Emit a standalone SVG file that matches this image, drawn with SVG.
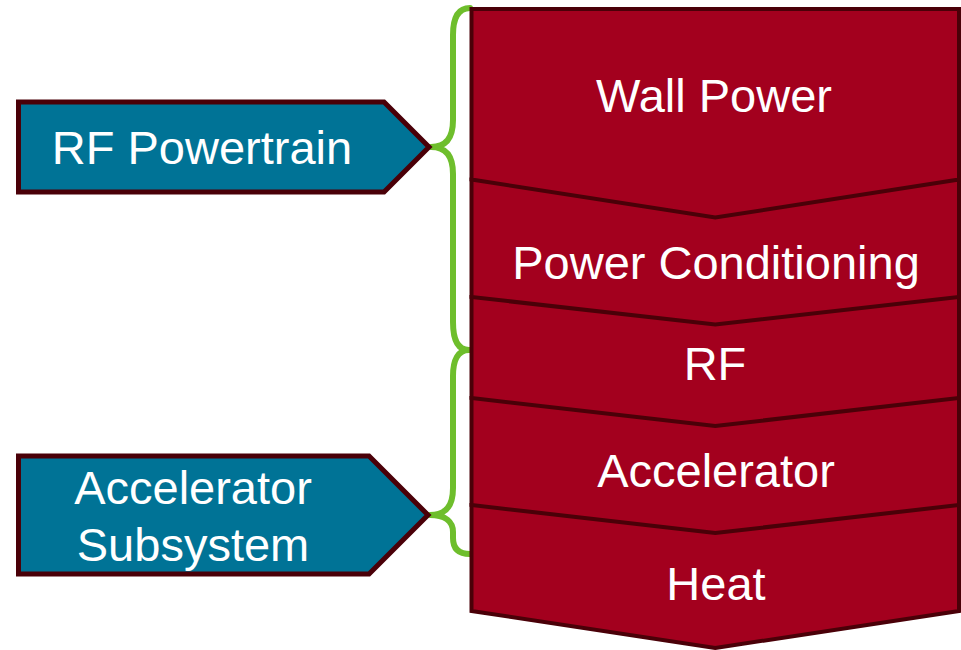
<svg xmlns="http://www.w3.org/2000/svg" width="961" height="650" viewBox="0 0 961 650">
<style>
.brace{fill:none;stroke:#6EBE2C;stroke-width:6;stroke-linecap:round;stroke-linejoin:round}
.stage{fill:#A3001E;stroke:#4A0008;stroke-width:4;stroke-linejoin:miter}
.tag{fill:#007396;stroke:#4A0008;stroke-width:5;stroke-linejoin:miter}
.lbl{font-family:"Liberation Sans",Arial,sans-serif;font-size:47px;fill:#FFFFFF;text-anchor:middle}
</style>
<rect width="961" height="650" fill="#FFFFFF"/>
<g id="connectors">
<path class="brace" d="M470,8 C458,8 453,18 453,35 L453,120 C453,138 446,147 431,147 C446,147 453,156 453,174 L453,322 C453,340 458,350 469,350"/>
<path class="brace" d="M469,350 C458,350 453,360 453,376 L453,488 C453,506 446,515 430,515 C446,515 453,522 453,532 L453,538 C453,548 458,554 470,554"/>
</g>
<g id="heat">
<path class="stage" d="M471.5,505 L959,505 L959,611 L715.25,648 L471.5,611 Z"/>
<text class="lbl" x="716" y="600">Heat</text>
</g>
<g id="accelerator">
<path class="stage" d="M471.5,398 L959,398 L959,505 L715.25,533 L471.5,505 Z"/>
<text class="lbl" x="716" y="487">Accelerator</text>
</g>
<g id="rf">
<path class="stage" d="M471.5,297 L959,297 L959,398 L715.25,426 L471.5,398 Z"/>
<text class="lbl" x="715" y="380">RF</text>
</g>
<g id="power-conditioning">
<path class="stage" d="M471.5,179.5 L959,179.5 L959,297 L715.25,324.5 L471.5,297 Z"/>
<text class="lbl" x="716" y="279">Power Conditioning</text>
</g>
<g id="wall-power">
<path class="stage" d="M471.5,9 L959,9 L959,179.5 L715.25,217.5 L471.5,179.5 Z"/>
<text class="lbl" x="714" y="112">Wall Power</text>
</g>
<g id="rf-powertrain">
<path class="tag" d="M18.5,102 L384,102 L429,147 L384,192 L18.5,192 Z"/>
<text class="lbl" x="202" y="164">RF Powertrain</text>
</g>
<g id="accelerator-subsystem">
<path class="tag" d="M18.5,456 L369,456 L428,515 L369,574 L18.5,574 Z"/>
<text class="lbl" x="193" y="504">Accelerator</text>
<text class="lbl" x="193" y="561">Subsystem</text>
</g>
</svg>
